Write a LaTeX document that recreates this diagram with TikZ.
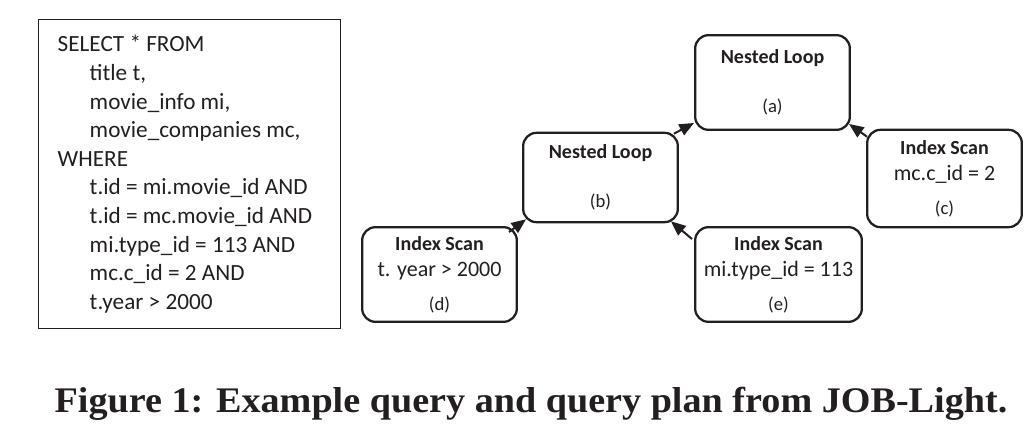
\documentclass[tikz,border=0pt]{standalone}
\usepackage{fontspec}
\setmainfont{Carlito}
\newfontfamily\capfont[FakeStretch=1.06]{Liberation Serif}
\usepackage{xcolor}
\definecolor{tinta}{RGB}{35, 31, 32}
\usepackage{tikz}
\usetikzlibrary{shapes,arrows, positioning, arrows.meta}
\newcommand{\op}[1]{{\bfseries #1}}
\newcommand{\cond}[1]{{\fontsize{16.5}{20}\selectfont #1}}
\newcommand{\etq}[1]{{\fontsize{14}{20}\selectfont #1}}

\begin{document}
\begin{tikzpicture}[x=0.75pt, y=-0.75pt, tinta,
    opbox/.style={draw, line width=1.7pt, rounded corners=10pt, align=center,
        minimum width=116pt, minimum height=71pt, inner sep=0pt,
        font=\fontsize{15}{20}\selectfont},
    flecha/.style={-{Triangle[length=11pt,width=9pt]}, line width=1.5pt}]
    \useasboundingbox (0,0) rectangle (1036,428);
    % Consulta SQL a la izquierda
    \node[draw, line width=1.1pt, anchor=north west, inner sep=0pt,
        minimum width=226.5pt, minimum height=231.75pt, align=left,
        font=\fontsize{17.4}{21.45}\selectfont] (query) at (38,19) {\makebox[198pt][l]{SELECT * FROM}\\
        \hspace*{24pt}title t,\\
        \hspace*{24pt}movie\_info mi,\\
        \hspace*{24pt}movie\_companies mc,\\
        WHERE\\
        \hspace*{24pt}t.id = mi.movie\_id AND\\
        \hspace*{24pt}t.id = mc.movie\_id AND\\
        \hspace*{24pt}mi.type\_id = 113 AND\\
        \hspace*{24pt}mc.c\_id = 2 AND\\
        \hspace*{24pt}t.year > 2000};
    % Plan de la consulta
    \node[opbox] (nla) at (772.5,82.5) {\op{Nested Loop}\\[17pt] \etq{(a)}};
    \node[opbox, minimum height=67pt] (nlb) at (600.5,177.5) {\op{Nested Loop}\\[17pt] \etq{(b)}};
    \node[opbox, minimum height=73pt] (isc) at (944.5,178.5) {\op{Index Scan}\\ \cond{mc.c\_id = 2}\\[5pt] \etq{(c)}};
    \node[opbox] (isd) at (439.5,274.5) {\op{Index Scan}\\ \cond{t. year > 2000}\\[5pt] \etq{(d)}};
    \node[opbox, minimum width=125pt] (ise) at (778.5,274.5) {\op{Index Scan}\\ \cond{mi.type\_id = 113}\\[5pt] \etq{(e)}};
    % Flechas entre operadores
    \draw[flecha] ([shift={(-9,6)}]isd.north east) -- ([shift={(4,-4)}]nlb.south west);
    \draw[flecha] ([shift={(-2,13)}]ise.north west) -- ([shift={(-8,-2)}]nlb.south east);
    \draw[flecha] ([shift={(-5,2)}]nlb.north east) -- ([shift={(0,-8)}]nla.south west);
    \draw[flecha] ([shift={(1,8)}]isc.north west) -- ([shift={(-2,-7)}]nla.south east);
    % Pie de figura
    \node[anchor=base, font=\capfont\bfseries\fontsize{27}{32}\selectfont] (caption) at (531,412)
        {Figure 1: Example query and query plan from JOB-Light.};
\end{tikzpicture}
\end{document}
